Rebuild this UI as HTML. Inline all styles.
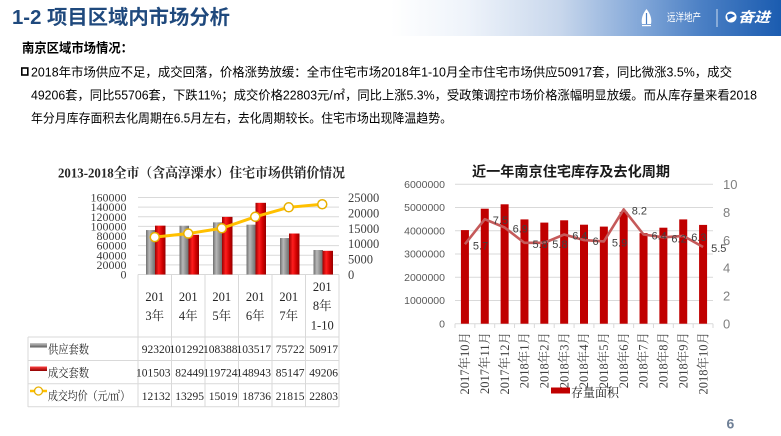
<!DOCTYPE html>
<html><head><meta charset="utf-8">
<style>
html,body{margin:0;padding:0;background:#fff;}
svg{display:block;}
.s{font-family:"Liberation Sans","Noto Sans CJK SC",sans-serif;}
.r{font-family:"Liberation Serif","Noto Serif CJK SC",serif;}
</style></head><body>
<svg width="781" height="436" viewBox="0 0 781 436" xmlns="http://www.w3.org/2000/svg">
<defs>
<linearGradient id="hdr" x1="0" x2="1" y1="0" y2="0">
 <stop offset="0" stop-color="#ffffff"/>
 <stop offset="0.5" stop-color="#ffffff"/>
 <stop offset="0.6" stop-color="#eef3fa"/>
 <stop offset="0.717" stop-color="#c8d7ec"/>
 <stop offset="0.82" stop-color="#82a7d8"/>
 <stop offset="0.9" stop-color="#4a7fc4"/>
 <stop offset="1" stop-color="#1b5cb0"/>
</linearGradient>
<linearGradient id="gb" x1="0" x2="1" y1="0" y2="0">
 <stop offset="0" stop-color="#6f6f6f"/>
 <stop offset="0.35" stop-color="#b8b8b8"/>
 <stop offset="0.7" stop-color="#8c8c8c"/>
 <stop offset="1" stop-color="#6a6a6a"/>
</linearGradient>
<linearGradient id="rb" x1="0" x2="1" y1="0" y2="0">
 <stop offset="0" stop-color="#9c0000"/>
 <stop offset="0.35" stop-color="#ff1e1e"/>
 <stop offset="0.7" stop-color="#d00000"/>
 <stop offset="1" stop-color="#940000"/>
</linearGradient>
<linearGradient id="gk" x1="0" x2="0" y1="0" y2="1">
 <stop offset="0" stop-color="#c8c8c8"/>
 <stop offset="1" stop-color="#5a5a5a"/>
</linearGradient>
<linearGradient id="rk" x1="0" x2="0" y1="0" y2="1">
 <stop offset="0" stop-color="#ff4040"/>
 <stop offset="1" stop-color="#900000"/>
</linearGradient>
</defs>

<!-- Header -->
<rect x="0" y="0" width="781" height="36" fill="url(#hdr)"/>
<text class="s" x="12" y="24" font-size="20" font-weight="bold" fill="#1f497d" textLength="218" lengthAdjust="spacingAndGlyphs">1-2 项目区域内市场分析</text>
<path d="M646.5 9 C642.5 14 641 19 642 24 L651 24 C652 19 650.5 14 646.5 9Z" fill="#fff"/>
<path d="M646.5 13 L646.5 24" stroke="#4a7fc4" stroke-width="1.2"/>
<rect x="642" y="25" width="9" height="1.2" fill="#fff"/>
<text class="s" x="667" y="21" font-size="11" fill="#fff" textLength="34" lengthAdjust="spacingAndGlyphs">远洋地产</text>
<line x1="717" y1="9" x2="717" y2="27" stroke="#ffffff" stroke-opacity="0.75" stroke-width="1"/>
<circle cx="731" cy="17" r="5.5" fill="#fff"/>
<path d="M727 15 Q731 12 735 16 Q731 18 728 20Z" fill="#2a66b8"/>
<text class="s" x="738" y="22" font-size="14" font-weight="bold" font-style="italic" fill="#fff" textLength="32" lengthAdjust="spacingAndGlyphs">奋进</text>

<!-- Subtitle & paragraph -->
<text class="s" x="22" y="52.5" font-size="13" font-weight="bold" fill="#000" textLength="111" lengthAdjust="spacingAndGlyphs">南京区域市场情况：</text>
<rect x="21.8" y="68" width="6" height="7" fill="none" stroke="#000" stroke-width="1.6"/>
<text class="s" x="31" y="76.5" font-size="12.5" fill="#000" textLength="701" lengthAdjust="spacingAndGlyphs">2018年市场供应不足，成交回落，价格涨势放缓：全市住宅市场2018年1-10月全市住宅市场供应50917套，同比微涨3.5%，成交</text>
<text class="s" x="31" y="99.5" font-size="12.5" fill="#000" textLength="726" lengthAdjust="spacingAndGlyphs">49206套，同比55706套，下跌11%；成交价格22803元/㎡，同比上涨5.3%，受政策调控市场价格涨幅明显放缓。而从库存量来看2018</text>
<text class="s" x="31" y="122.5" font-size="12.5" fill="#000" textLength="421" lengthAdjust="spacingAndGlyphs">年分月库存面积去化周期在6.5月左右，去化周期较长。住宅市场出现降温趋势。</text>

<!-- LEFT CHART -->
<text class="r" x="58" y="177.7" font-size="13.5" font-weight="bold" fill="#262626" textLength="287" lengthAdjust="spacingAndGlyphs">2013-2018全市（含高淳溧水）住宅市场供销价情况</text>
<g stroke="#d9d9d9" stroke-width="1">
 <line x1="138" y1="197.5" x2="339" y2="197.5"/>
 <line x1="138" y1="207.1" x2="339" y2="207.1"/>
 <line x1="138" y1="216.75" x2="339" y2="216.75"/>
 <line x1="138" y1="226.4" x2="339" y2="226.4"/>
 <line x1="138" y1="236" x2="339" y2="236"/>
 <line x1="138" y1="245.6" x2="339" y2="245.6"/>
 <line x1="138" y1="255.25" x2="339" y2="255.25"/>
 <line x1="138" y1="264.9" x2="339" y2="264.9"/>
 <line x1="138" y1="274.5" x2="339" y2="274.5"/>
</g>
<g class="r" font-size="12" fill="#404040" text-anchor="end">
 <text x="126.5" y="201.5">160000</text>
 <text x="126.5" y="211.1">140000</text>
 <text x="126.5" y="220.75">120000</text>
 <text x="126.5" y="230.4">100000</text>
 <text x="126.5" y="240">80000</text>
 <text x="126.5" y="249.6">60000</text>
 <text x="126.5" y="259.25">40000</text>
 <text x="126.5" y="268.9">20000</text>
 <text x="126.5" y="278.5">0</text>
</g>
<g class="r" font-size="12.5" fill="#404040">
 <text x="348" y="202">25000</text>
 <text x="348" y="217.4">20000</text>
 <text x="348" y="232.8">15000</text>
 <text x="348" y="248.2">10000</text>
 <text x="348" y="263.6">5000</text>
 <text x="348" y="279">0</text>
</g>
<!-- supply bars -->
<g fill="url(#gb)">
 <rect x="146" y="230.07" width="9.5" height="44.43"/>
 <rect x="179.5" y="225.75" width="9.5" height="48.75"/>
 <rect x="213" y="222.34" width="9.5" height="52.16"/>
 <rect x="246.5" y="224.68" width="9.5" height="49.82"/>
 <rect x="280" y="238.06" width="9.5" height="36.44"/>
 <rect x="313.5" y="250" width="9.5" height="24.5"/>
</g>
<!-- deal bars -->
<g fill="url(#rb)">
 <rect x="155" y="225.65" width="10.5" height="48.85"/>
 <rect x="188.5" y="234.82" width="10.5" height="39.68"/>
 <rect x="222" y="216.88" width="10.5" height="57.62"/>
 <rect x="255.5" y="202.82" width="10.5" height="71.68"/>
 <rect x="289" y="233.52" width="10.5" height="40.98"/>
 <rect x="322.5" y="250.82" width="10.5" height="23.68"/>
</g>
<polyline points="154.75,237.13 188.25,233.55 221.75,228.24 255.25,216.79 288.75,207.31 322.25,204.27" fill="none" stroke="#ffc000" stroke-width="3"/>
<g fill="#fff" stroke="#e8b000" stroke-width="1.5">
 <circle cx="154.75" cy="237.13" r="4.5"/>
 <circle cx="188.25" cy="233.55" r="4.5"/>
 <circle cx="221.75" cy="228.24" r="4.5"/>
 <circle cx="255.25" cy="216.79" r="4.5"/>
 <circle cx="288.75" cy="207.31" r="4.5"/>
 <circle cx="322.25" cy="204.27" r="4.5"/>
</g>
<!-- table grid -->
<g stroke="#d9d9d9" stroke-width="1">
 <line x1="138" y1="274.5" x2="138" y2="407"/>
 <line x1="171.5" y1="274.5" x2="171.5" y2="407"/>
 <line x1="205" y1="274.5" x2="205" y2="407"/>
 <line x1="238.5" y1="274.5" x2="238.5" y2="407"/>
 <line x1="272" y1="274.5" x2="272" y2="407"/>
 <line x1="305.5" y1="274.5" x2="305.5" y2="407"/>
 <line x1="339" y1="274.5" x2="339" y2="407"/>
 <line x1="28" y1="337" x2="28" y2="407"/>
 <line x1="28" y1="337" x2="339" y2="337"/>
 <line x1="28" y1="360.5" x2="339" y2="360.5"/>
 <line x1="28" y1="383.7" x2="339" y2="383.7"/>
 <line x1="28" y1="406.7" x2="339" y2="406.7"/>
</g>
<g class="r" font-size="12.5" fill="#262626" text-anchor="middle">
 <text x="154.75" y="301">201</text><text x="154.75" y="320">3年</text>
 <text x="188.25" y="301">201</text><text x="188.25" y="320">4年</text>
 <text x="221.75" y="301">201</text><text x="221.75" y="320">5年</text>
 <text x="255.25" y="301">201</text><text x="255.25" y="320">6年</text>
 <text x="288.75" y="301">201</text><text x="288.75" y="320">7年</text>
 <text x="322.25" y="291">201</text><text x="322.25" y="310">8年</text><text x="322.25" y="329.5">1-10</text>
</g>
<rect x="30" y="343" width="17" height="4.5" fill="url(#gk)"/>
<rect x="30" y="366.5" width="17" height="4.5" fill="url(#rk)"/>
<line x1="30" y1="391" x2="47" y2="391" stroke="#ffc000" stroke-width="2.5"/>
<circle cx="38.5" cy="391" r="4" fill="#fff" stroke="#e8b000" stroke-width="1.3"/>
<g class="r" font-size="12" fill="#262626">
 <text x="48" y="353.5" textLength="41" lengthAdjust="spacingAndGlyphs">供应套数</text>
 <text x="48" y="377" textLength="41" lengthAdjust="spacingAndGlyphs">成交套数</text>
 <text x="48" y="400" textLength="82" lengthAdjust="spacingAndGlyphs">成交均价（元/㎡）</text>
</g>
<g class="r" font-size="11.5" fill="#262626" text-anchor="end">
 <text x="170.5" y="353">92320</text>
 <text x="204" y="353">101292</text>
 <text x="237.5" y="353">108388</text>
 <text x="271" y="353">103517</text>
 <text x="304.5" y="353">75722</text>
 <text x="338" y="353">50917</text>
 <text x="170.5" y="376.7">101503</text>
 <text x="204" y="376.7">82449</text>
 <text x="237.5" y="376.7">119724</text>
 <text x="271" y="376.7">148943</text>
 <text x="304.5" y="376.7">85147</text>
 <text x="338" y="376.7">49206</text>
 <text x="170.5" y="400">12132</text>
 <text x="204" y="400">13295</text>
 <text x="237.5" y="400">15019</text>
 <text x="271" y="400">18736</text>
 <text x="304.5" y="400">21815</text>
 <text x="338" y="400">22803</text>
</g>

<!-- RIGHT CHART -->
<text class="s" x="472" y="176.7" font-size="14" font-weight="bold" fill="#1a1a1a" textLength="198" lengthAdjust="spacingAndGlyphs">近一年南京住宅库存及去化周期</text>
<g stroke="#d9d9d9" stroke-width="1">
 <line x1="455" y1="184.3" x2="713" y2="184.3"/>
 <line x1="455" y1="207.53" x2="713" y2="207.53"/>
 <line x1="455" y1="230.77" x2="713" y2="230.77"/>
 <line x1="455" y1="254" x2="713" y2="254"/>
 <line x1="455" y1="277.23" x2="713" y2="277.23"/>
 <line x1="455" y1="300.47" x2="713" y2="300.47"/>
 <line x1="455" y1="323.7" x2="713" y2="323.7"/>
 <line x1="455" y1="323.7" x2="455" y2="328"/>
 <line x1="474.85" y1="323.7" x2="474.85" y2="328"/>
 <line x1="494.7" y1="323.7" x2="494.7" y2="328"/>
 <line x1="514.54" y1="323.7" x2="514.54" y2="328"/>
 <line x1="534.38" y1="323.7" x2="534.38" y2="328"/>
 <line x1="554.23" y1="323.7" x2="554.23" y2="328"/>
 <line x1="574.08" y1="323.7" x2="574.08" y2="328"/>
 <line x1="593.92" y1="323.7" x2="593.92" y2="328"/>
 <line x1="613.77" y1="323.7" x2="613.77" y2="328"/>
 <line x1="633.62" y1="323.7" x2="633.62" y2="328"/>
 <line x1="653.46" y1="323.7" x2="653.46" y2="328"/>
 <line x1="673.3" y1="323.7" x2="673.3" y2="328"/>
 <line x1="693.15" y1="323.7" x2="693.15" y2="328"/>
 <line x1="713" y1="323.7" x2="713" y2="328"/>
</g>
<g class="s" font-size="10.5" fill="#595959" text-anchor="end">
 <text x="445" y="188">6000000</text>
 <text x="445" y="211.2">5000000</text>
 <text x="445" y="234.5">4000000</text>
 <text x="445" y="257.7">3000000</text>
 <text x="445" y="280.9">2000000</text>
 <text x="445" y="304.2">1000000</text>
 <text x="445" y="327.4">0</text>
</g>
<g class="s" font-size="13" fill="#7f7f7f">
 <text x="723" y="189">10</text>
 <text x="723" y="216.9">8</text>
 <text x="723" y="244.8">6</text>
 <text x="723" y="272.7">4</text>
 <text x="723" y="300.6">2</text>
 <text x="723" y="328.5">0</text>
</g>
<g fill="#c00000">
 <rect x="460.92" y="230.1" width="8" height="93.6"/>
 <rect x="480.77" y="208.7" width="8" height="115"/>
 <rect x="500.62" y="204.3" width="8" height="119.4"/>
 <rect x="520.46" y="219.4" width="8" height="104.3"/>
 <rect x="540.31" y="222.6" width="8" height="101.1"/>
 <rect x="560.15" y="220.3" width="8" height="103.4"/>
 <rect x="580" y="224.7" width="8" height="99"/>
 <rect x="599.85" y="226.6" width="8" height="97.1"/>
 <rect x="619.69" y="211.9" width="8" height="111.8"/>
 <rect x="639.54" y="233.1" width="8" height="90.6"/>
 <rect x="659.38" y="227.7" width="8" height="96"/>
 <rect x="679.23" y="219.4" width="8" height="104.3"/>
 <rect x="699.08" y="224.9" width="8" height="98.8"/>
</g>
<polyline points="464.92,244.2 484.77,219.15 504.62,227.5 524.46,242.85 544.31,242.85 564.15,234.5 584,240.1 603.85,241.45 623.69,209.4 643.54,234.5 663.38,237.3 683.23,235.9 703.08,247" fill="none" stroke="#c55a5a" stroke-width="2.6" stroke-linejoin="round"/>
<g class="s" font-size="11" fill="#404040">
 <text x="472.9" y="249.4">5.7</text>
 <text x="492.8" y="224.2">7.5</text>
 <text x="512.6" y="232.5">6.9</text>
 <text x="532.5" y="248">5.8</text>
 <text x="552.3" y="248">5.8</text>
 <text x="572.2" y="239.5">6.4</text>
 <text x="592.5" y="245">6</text>
 <text x="611.9" y="246.5">5.9</text>
 <text x="631.7" y="214.4">8.2</text>
 <text x="651.5" y="239.5">6.4</text>
 <text x="671.4" y="242.3">6.2</text>
 <text x="691.2" y="241">6.3</text>
 <text x="711.1" y="252">5.5</text>
</g>
<g class="r" font-size="12.5" fill="#404040" text-anchor="end">
 <text transform="translate(464.92,332) rotate(-90)" y="4.2">2017年10月</text>
 <text transform="translate(484.77,332) rotate(-90)" y="4.2">2017年11月</text>
 <text transform="translate(504.62,332) rotate(-90)" y="4.2">2017年12月</text>
 <text transform="translate(524.46,332) rotate(-90)" y="4.2">2018年1月</text>
 <text transform="translate(544.31,332) rotate(-90)" y="4.2">2018年2月</text>
 <text transform="translate(564.15,332) rotate(-90)" y="4.2">2018年3月</text>
 <text transform="translate(584,332) rotate(-90)" y="4.2">2018年4月</text>
 <text transform="translate(603.85,332) rotate(-90)" y="4.2">2018年5月</text>
 <text transform="translate(623.69,332) rotate(-90)" y="4.2">2018年6月</text>
 <text transform="translate(643.54,332) rotate(-90)" y="4.2">2018年7月</text>
 <text transform="translate(663.38,332) rotate(-90)" y="4.2">2018年8月</text>
 <text transform="translate(683.23,332) rotate(-90)" y="4.2">2018年9月</text>
 <text transform="translate(703.08,332) rotate(-90)" y="4.2">2018年10月</text>
</g>
<rect x="551" y="387.5" width="19" height="6" fill="#c00000"/>
<text class="r" x="571" y="397" font-size="12.5" fill="#1a1a1a" textLength="48" lengthAdjust="spacingAndGlyphs">存量面积</text>

<!-- page number -->
<text class="s" x="726.5" y="428.5" font-size="14" font-weight="bold" fill="#6e7f96">6</text>
</svg>
</body></html>
